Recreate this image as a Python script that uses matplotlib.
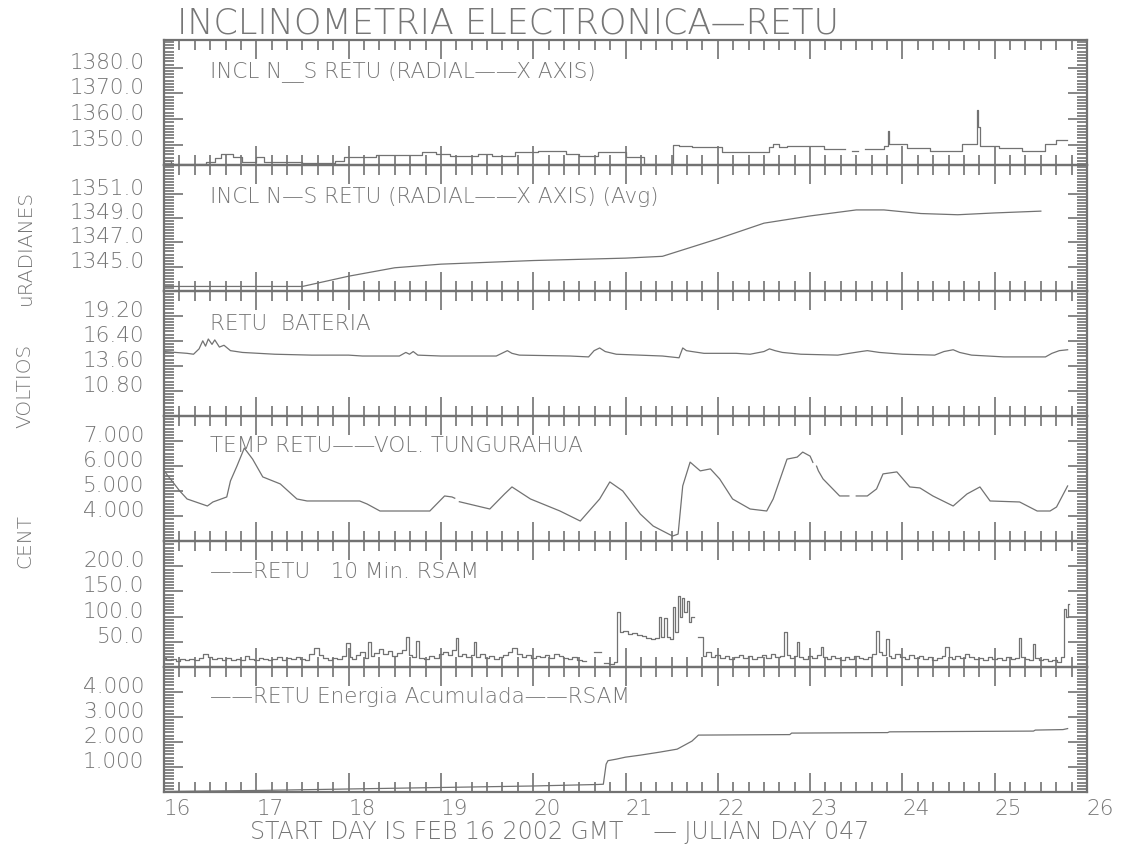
import numpy as np
import matplotlib
matplotlib.use("Agg")
import matplotlib.pyplot as plt
from matplotlib.ticker import MultipleLocator, AutoMinorLocator, FixedLocator

# ---------------- data ----------------
title = "INCLINOMETRIA ELECTRONICA\u2014RETU"
panel_titles = [
    "INCL N__S RETU (RADIAL\u2014\u2014X AXIS)",
    "INCL N\u2014S RETU (RADIAL\u2014\u2014X AXIS) (Avg)",
    "RETU  BATERIA",
    "TEMP RETU\u2014\u2014VOL. TUNGURAHUA",
    "\u2014\u2014RETU   10 Min. RSAM",
    "\u2014\u2014RETU Energia Acumulada\u2014\u2014RSAM",
]
side_labels = ["uRADIANES", "VOLTIOS", "CENT"]
x_ticks = [16, 17, 18, 19, 20, 21, 22, 23, 24, 25, 26]
x_label = "START DAY IS FEB 16 2002 GMT    \u2014 JULIAN DAY 047"

ylims = [(1342, 1390.8), (1343, 1353.4), (8.0, 22.0), (3.0, 8.0), (0.0, 250.0), (0.0, 5.0)]
ytick_vals = [[1350, 1360, 1370, 1380], [1345, 1347, 1349, 1351],
              [10.8, 13.6, 16.4, 19.2], [4, 5, 6, 7], [50, 100, 150, 200], [1, 2, 3, 4]]
ytick_txt = [["1350.0", "1360.0", "1370.0", "1380.0"], ["1345.0", "1347.0", "1349.0", "1351.0"],
             ["10.80", "13.60", "16.40", "19.20"], ["4.000", "5.000", "6.000", "7.000"],
             ["50.0", "100.0", "150.0", "200.0"], ["1.000", "2.000", "3.000", "4.000"]]

incl_day = [16.00, 16.08, 16.45, 16.55, 16.62, 16.75, 16.85, 17.00, 17.08, 17.50, 17.85, 17.95,
            18.30, 18.80, 18.95, 19.10, 19.40, 19.55, 19.80, 20.05, 20.35, 20.50, 20.70, 21.00,
            21.20, 21.52, 21.58, 21.72, 22.05, 22.55, 22.60, 22.66, 22.75, 23.15, 23.38, 23.45,
            23.52, 23.60, 23.80, 23.84, 23.86, 24.05, 24.30, 24.65, 24.80, 24.81, 24.82, 24.84,
            25.05, 25.30, 25.55, 25.66, 25.78]
incl_val = [1343.7, 1342.5, 1343.3, 1344.9, 1346.5, 1345.3, 1343.3, 1345.3, 1343.3, 1342.9, 1343.7, 1345.3,
            1346.1, 1347.3, 1346.5, 1345.7, 1346.5, 1345.7, 1347.3, 1347.7, 1346.5, 1345.7, 1347.3, 1345.3,
            1342.5, 1350.1, 1349.7, 1349.3, 1347.3, 1349.3, 1350.5, 1349.0, 1349.5, 1348.3, np.nan, 1347.7,
            np.nan, 1348.5, 1349.7, 1355.5, 1350.5, 1348.9, 1347.5, 1350.3, 1350.5, 1363.5, 1357.0, 1349.7,
            1348.7, 1347.7, 1350.3, 1351.7, 1351.7]

avg_day = [16.00, 17.50, 18.00, 18.50, 19.00, 20.00, 21.00, 21.40, 22.00, 22.50, 23.00, 23.50, 23.80,
           24.20, 24.60, 25.00, 25.50]
avg_val = [1343.35, 1343.35, 1344.2, 1344.9, 1345.2, 1345.5, 1345.7, 1345.85, 1347.3, 1348.6, 1349.2,
           1349.7, 1349.7, 1349.4, 1349.3, 1349.45, 1349.6]

bat_day = [16.00, 16.25, 16.32, 16.38, 16.42, 16.45, 16.48, 16.52, 16.55, 16.60, 16.65, 16.72, 16.85,
           17.20, 17.60, 18.00, 18.15, 18.55, 18.62, 18.66, 18.70, 18.75, 19.00, 19.60, 19.72, 19.77,
           19.85, 20.40, 20.60, 20.66, 20.72, 20.78, 20.90, 21.40, 21.58, 21.62, 21.66, 21.72, 21.85,
           22.20, 22.35, 22.50, 22.56, 22.62, 22.70, 22.90, 23.30, 23.55, 23.62, 23.75, 24.00, 24.35,
           24.45, 24.55, 24.62, 24.75, 25.10, 25.55, 25.62, 25.70, 25.79]
bat_val = [15.2, 15.0, 14.9, 15.5, 16.4, 15.8, 16.6, 16.0, 16.5, 15.7, 15.9, 15.3, 15.1,
           14.9, 14.8, 14.8, 14.7, 14.7, 15.1, 14.9, 15.2, 14.8, 14.7, 14.7, 15.3, 15.0,
           14.8, 14.7, 14.6, 15.3, 15.6, 15.2, 14.9, 14.7, 14.5, 15.6, 15.3, 15.2, 15.0,
           15.0, 14.9, 15.2, 15.5, 15.3, 15.1, 14.9, 14.8, 15.2, 15.3, 15.1, 14.9, 14.8,
           15.2, 15.4, 15.1, 14.8, 14.6, 14.6, 15.0, 15.3, 15.4]

temp_day = [16.01, 16.17, 16.25, 16.47, 16.53, 16.68, 16.72, 16.79, 16.87, 16.96, 17.07, 17.26, 17.44,
            17.55, 18.12, 18.20, 18.34, 18.88, 19.04, 19.12, 19.15, 19.17, 19.20, 19.53, 19.69, 19.77,
            19.97, 20.29, 20.51, 20.72, 20.83, 20.97, 21.16, 21.30, 21.51, 21.57, 21.62, 21.70, 21.81,
            21.92, 22.02, 22.16, 22.35, 22.53, 22.60, 22.75, 22.86, 22.92, 23.00, 23.03, 23.05, 23.07,
            23.09, 23.14, 23.32, 23.42, 23.46, 23.50, 23.62, 23.72, 23.79, 23.94, 24.08, 24.19, 24.33,
            24.55, 24.70, 24.84, 24.95, 25.27, 25.46, 25.60, 25.67, 25.79]
temp_val = [5.77, 5.01, 4.69, 4.41, 4.57, 4.77, 5.41, 6.00, 6.72, 6.28, 5.57, 5.29, 4.69,
            4.61, 4.61, 4.49, 4.21, 4.21, 4.81, 4.77, 4.72, np.nan, 4.58, 4.29, 4.89, 5.17,
            4.69, 4.21, 3.81, 4.69, 5.37, 5.01, 4.09, 3.61, 3.21, 3.29, 5.21, 6.16, 5.81,
            5.89, 5.49, 4.69, 4.29, 4.21, 4.69, 6.28, 6.36, 6.56, 6.40, 6.15, np.nan, 6.00,
            5.81, 5.49, 4.81, 4.81, np.nan, 4.81, 4.81, 5.09, 5.69, 5.77, 5.17, 5.13, 4.81,
            4.41, 4.89, 5.17, 4.61, 4.57, 4.21, 4.21, 4.37, 5.21]

rsam_day = [16.00, 16.05, 16.10, 16.15, 16.20, 16.25, 16.30, 16.35, 16.40, 16.45, 16.50, 16.55, 16.60,
            16.65, 16.70, 16.75, 16.80, 16.85, 16.90, 16.95, 17.00, 17.05, 17.10, 17.15, 17.20, 17.25,
            17.30, 17.35, 17.40, 17.45, 17.50, 17.55, 17.60, 17.65, 17.70, 17.75, 17.80, 17.85, 17.90,
            17.95, 18.00, 18.02, 18.05, 18.10, 18.15, 18.20, 18.23, 18.26, 18.30, 18.35, 18.40, 18.45,
            18.50, 18.55, 18.60, 18.64, 18.67, 18.70, 18.75, 18.78, 18.85, 18.90, 18.95, 19.00, 19.05,
            19.10, 19.15, 19.17, 19.20, 19.25, 19.30, 19.35, 19.37, 19.40, 19.45, 19.50, 19.55, 19.60,
            19.65, 19.70, 19.75, 19.80, 19.85, 19.90, 19.95, 20.00, 20.05, 20.10, 20.15, 20.20, 20.25,
            20.30, 20.35, 20.40, 20.45, 20.50, 20.55, 20.60, 20.72, 20.74, 20.80, 20.85, 20.90,
            20.92, 20.95, 21.00, 21.05, 21.10, 21.15, 21.20, 21.25, 21.30, 21.35, 21.38, 21.40, 21.43,
            21.46, 21.50, 21.52, 21.55, 21.58, 21.60, 21.62, 21.65, 21.68, 21.70, 21.72, 21.76, 21.82,
            21.85, 21.90, 21.95, 22.00, 22.05, 22.10, 22.15, 22.20, 22.25, 22.30, 22.35, 22.40, 22.45,
            22.50, 22.55, 22.60, 22.65, 22.70, 22.73, 22.76, 22.80, 22.85, 22.87, 22.90, 22.95, 23.00,
            23.05, 23.10, 23.13, 23.16, 23.20, 23.25, 23.30, 23.35, 23.40, 23.45, 23.50, 23.55, 23.60,
            23.65, 23.70, 23.73, 23.76, 23.80, 23.84, 23.86, 23.90, 23.95, 24.00, 24.05, 24.10, 24.15,
            24.20, 24.25, 24.30, 24.35, 24.40, 24.45, 24.48, 24.52, 24.55, 24.60, 24.65, 24.70, 24.75,
            24.80, 24.85, 24.90, 24.95, 25.00, 25.05, 25.10, 25.15, 25.20, 25.25, 25.27, 25.30, 25.35,
            25.40, 25.42, 25.45, 25.50, 25.55, 25.60, 25.65, 25.70, 25.74, 25.76, 25.78, 25.80]
rsam_val = [18, 14, 16, 12, 15, 13, 16, 14, 18, 26, 20, 16, 18,
            14, 17, 13, 15, 14, 22, 16, 14, 18, 15, 13, 16, 19,
            14, 17, 15, 20, 16, 14, 26, 38, 24, 17, 14, 18, 15,
            22, 48, 20, 16, 24, 30, 18, 50, 22, 28, 36, 26, 32,
            22, 28, 34, 60, 24, 20, 52, 18, 16, 22, 18, 26, 30,
            24, 34, 58, 22, 26, 20, 24, 50, 20, 26, 18, 22, 16,
            20, 24, 30, 38, 26, 20, 24, 18, 22, 20, 24, 18, 26,
            22, 18, 16, 20, 14, 12, np.nan, 30, np.nan, 8, 6, 10,
            110, 70, 72, 66, 68, 64, 62, 58, 56, 58, 100, 60, 98,
            60, 56, 120, 70, 140, 100, 136, 110, 130, 90, 100, np.nan, 60,
            22, 30, 20, 24, 18, 22, 16, 20, 24, 18, 22, 16, 20,
            24, 18, 26, 20, 22, 70, 24, 18, 22, 50, 20, 16, 22,
            18, 24, 40, 20, 16, 22, 18, 14, 20, 16, 22, 18, 16,
            20, 26, 72, 30, 24, 55, 22, 18, 26, 20, 16, 24, 18,
            22, 16, 20, 14, 18, 22, 40, 20, 16, 22, 18, 26, 20,
            16, 18, 14, 20, 16, 18, 14, 20, 16, 18, 58, 20, 16,
            14, 45, 18, 14, 16, 12, 14, 10, 20, 115, 100, 125]

ener_day = [16.00, 17.00, 18.00, 19.00, 20.00, 20.70, 20.76, 20.79, 20.81, 20.90, 21.00, 21.16, 21.37,
            21.56, 21.66, 21.72, 21.79, 22.78, 22.80, 23.84, 23.86, 25.42, 25.44, 25.74, 25.79]
ener_val = [0.02, 0.06, 0.12, 0.18, 0.24, 0.30, 0.31, 1.11, 1.25, 1.31, 1.39, 1.47, 1.59,
            1.71, 1.91, 2.03, 2.27, 2.29, 2.35, 2.37, 2.40, 2.43, 2.47, 2.49, 2.53]

series = [(incl_day, incl_val, "steps-post"), (avg_day, avg_val, "default"),
          (bat_day, bat_val, "default"), (temp_day, temp_val, "default"),
          (rsam_day, rsam_val, "steps-mid"), (ener_day, ener_val, "default")]

# ---------------- layout ----------------
W, H = 1125, 845
GRAY = "#727272"
TXT = "#767676"
plt.rcParams["font.family"] = ["DejaVu Sans"]
LW = "light"

fig = plt.figure(figsize=(W / 100, H / 100), dpi=100)
L, R, T, B = 164, 1087, 41, 793
ph = (B - T) / 6.0
panel_text_y = [72, 197, 324, 446, 572, 697]

axes = []
for i in range(6):
    top = T + i * ph
    ax = fig.add_axes([L / W, 1 - (top + ph) / H, (R - L) / W, ph / H])
    d, v, ds = series[i]
    ax.plot(d, v, color=GRAY, lw=0.9, drawstyle=ds)
    ax.set_xlim(16, 26)
    ax.set_ylim(*ylims[i])
    ax.xaxis.set_major_locator(FixedLocator(x_ticks))
    ax.xaxis.set_minor_locator(MultipleLocator(1 / 6))
    ax.set_yticks(ytick_vals[i], ytick_txt[i])
    ax.yaxis.set_minor_locator(AutoMinorLocator(8))
    ax.tick_params(axis="x", which="both", direction="in", top=True, bottom=True,
                   color=GRAY, width=1.2)
    ax.tick_params(axis="x", which="major", length=14)
    ax.tick_params(axis="x", which="minor", length=7)
    ax.tick_params(axis="y", which="both", direction="in", left=True, right=True,
                   color=GRAY, width=1.2)
    ax.tick_params(axis="y", which="major", length=14, pad=14, labelsize=15.5,
                   labelcolor=TXT)
    ax.tick_params(axis="y", which="minor", length=7)
    for lbl in ax.get_yticklabels():
        lbl.set_verticalalignment("baseline")
        lbl.set_fontweight(LW)
    if i < 5:
        ax.tick_params(axis="x", labelbottom=False)
    else:
        ax.set_xticks(x_ticks, [str(t) for t in x_ticks])
        ax.tick_params(axis="x", which="major", labelsize=15.5, labelcolor=TXT, pad=4)
        for lbl in ax.get_xticklabels():
            lbl.set_horizontalalignment("left")
            lbl.set_fontweight(LW)
    for s in ax.spines.values():
        s.set_color(GRAY)
        s.set_linewidth(1.6)
    ax.patch.set_alpha(0)
    fig.text(210 / W, 1 - panel_text_y[i] / H, panel_titles[i], fontsize=15.5,
             color=TXT, ha="left", va="center", fontweight=LW)
    axes.append(ax)

fig.text(177 / W, 1 - 23 / H, title, fontsize=25.2, color=TXT, ha="left", va="center",
         fontweight=LW)
for lab, yc in zip(side_labels, [247, 386, 541]):
    fig.text(25 / W, 1 - yc / H, lab, fontsize=14.5, color=TXT, rotation=90,
             ha="center", va="center", fontweight=LW)
fig.text(250 / W, 1 - 832 / H, x_label, fontsize=17, color=TXT, ha="left", va="center",
         fontweight=LW)

fig.savefig("out.png", dpi=100, facecolor="white")
